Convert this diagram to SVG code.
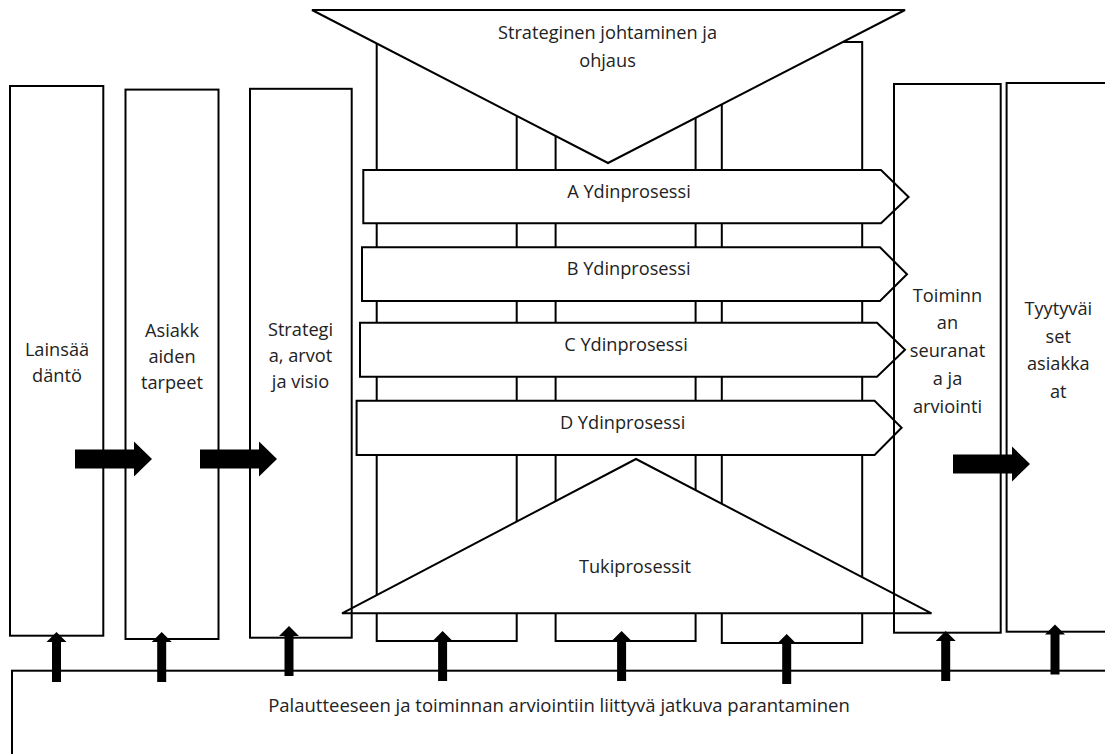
<svg xmlns="http://www.w3.org/2000/svg" xmlns:xlink="http://www.w3.org/1999/xlink" width="1105" height="754" viewBox="0 0 1105 754">
<style>
.ln{fill:none;stroke:#000;stroke-width:2;stroke-linejoin:miter}
.wf{fill:#fff;stroke:#000;stroke-width:2;stroke-linejoin:miter}
.bk{fill:#000;stroke:none}
text{font-family:"Open Sans","Noto Sans","Liberation Sans",sans-serif;font-size:18.2px;fill:#222;text-anchor:middle}
.big{font-size:18.5px}
</style>
<defs>
<path id="up" d="M0,0 L10,10 L4.5,10 L4.5,50 L-4.5,50 L-4.5,10 L-10,10 Z"/>
<path id="right" d="M0,-9.5 H59 V-17.5 L77,0 L59,17.5 V9.5 H0 Z"/>
</defs>
<rect width="1105" height="754" fill="#fff"/>

<g id="columns">
<rect class="wf" x="376.7" y="42" width="140" height="599"/>
<rect class="wf" x="555.6" y="42" width="140" height="599"/>
<rect class="wf" x="721.8" y="42" width="140.4" height="601"/>
</g>

<g id="strateginen">
<polygon class="wf" points="312,10 905,10 608,163"/>
<text x="607.5" y="39">Strateginen johtaminen ja</text>
<text x="607.5" y="67">ohjaus</text>
</g>

<g id="ydin-a">
<polygon class="wf" points="363.3,170 881,170 908.6,197 881,223.3 363.3,223.3"/>
<text x="629" y="198">A Ydinprosessi</text>
</g>
<g id="ydin-b">
<polygon class="wf" points="362,247.3 880,247.3 907,274.2 880,301 362,301"/>
<text x="628.6" y="275">B Ydinprosessi</text>
</g>
<g id="ydin-c">
<polygon class="wf" points="360,322.7 877,322.7 905,349.7 877,376.7 360,376.7"/>
<text x="626" y="351">C Ydinprosessi</text>
</g>
<g id="ydin-d">
<polygon class="wf" points="356.6,400.7 874.6,400.7 901.6,427.8 874.6,455 356.6,455"/>
<text x="622.6" y="429">D Ydinprosessi</text>
</g>

<g id="tukiprosessit">
<polygon class="wf" points="342,613.3 636,459 931.5,613.3"/>
<text x="635" y="572.5">Tukiprosessit</text>
</g>

<g id="lainsaadanto">
<rect class="ln" x="10" y="86" width="93.3" height="549.7"/>
<text x="57" y="355.5">Lainsää</text>
<text x="57" y="381.5">däntö</text>
</g>
<g id="asiakkaiden-tarpeet">
<rect class="ln" x="125.5" y="89.6" width="93" height="549.4"/>
<text x="172" y="336.5">Asiakk</text>
<text x="172" y="362.5">aiden</text>
<text x="172" y="388.5">tarpeet</text>
</g>
<g id="strategia">
<rect class="ln" x="250" y="88.8" width="101.7" height="548.9"/>
<text x="300.5" y="335.5">Strategi</text>
<text x="300.5" y="361.5">a, arvot</text>
<text x="300.5" y="387.5">ja visio</text>
</g>
<g id="toiminnan-seuranta">
<rect class="ln" x="894" y="84" width="106.7" height="548.7"/>
<text x="947.5" y="301.7">Toiminn</text>
<text x="947.5" y="329.4">an</text>
<text x="947.5" y="357.1">seuranat</text>
<text x="947.5" y="384.8">a ja</text>
<text x="947.5" y="412.5">arviointi</text>
</g>
<g id="tyytyvaiset">
<rect class="ln" x="1006.6" y="83" width="110" height="548.7"/>
<text x="1058.3" y="315">Tyytyväi</text>
<text x="1058.3" y="342.6">set</text>
<text x="1058.3" y="370.2">asiakka</text>
<text x="1058.3" y="397.8">at</text>
</g>
<g id="parantaminen">
<rect class="ln" x="12" y="670.7" width="1110" height="110"/>
<text class="big" x="559" y="712.3">Palautteeseen ja toiminnan arviointiin liittyvä jatkuva parantaminen</text>
</g>

<g id="connectors">
<use xlink:href="#right" class="bk" x="75" y="459"/>
<use xlink:href="#right" class="bk" x="200" y="459"/>
<use xlink:href="#right" class="bk" x="953" y="464"/>
<use xlink:href="#up" class="bk" x="56.5" y="632"/>
<use xlink:href="#up" class="bk" x="161.7" y="632"/>
<use xlink:href="#up" class="bk" x="289" y="626"/>
<use xlink:href="#up" class="bk" x="442.6" y="631"/>
<use xlink:href="#up" class="bk" x="621.6" y="631"/>
<use xlink:href="#up" class="bk" x="786.7" y="634"/>
<use xlink:href="#up" class="bk" x="945.7" y="631"/>
<use xlink:href="#up" class="bk" x="1055" y="624.5"/>
</g>
</svg>
